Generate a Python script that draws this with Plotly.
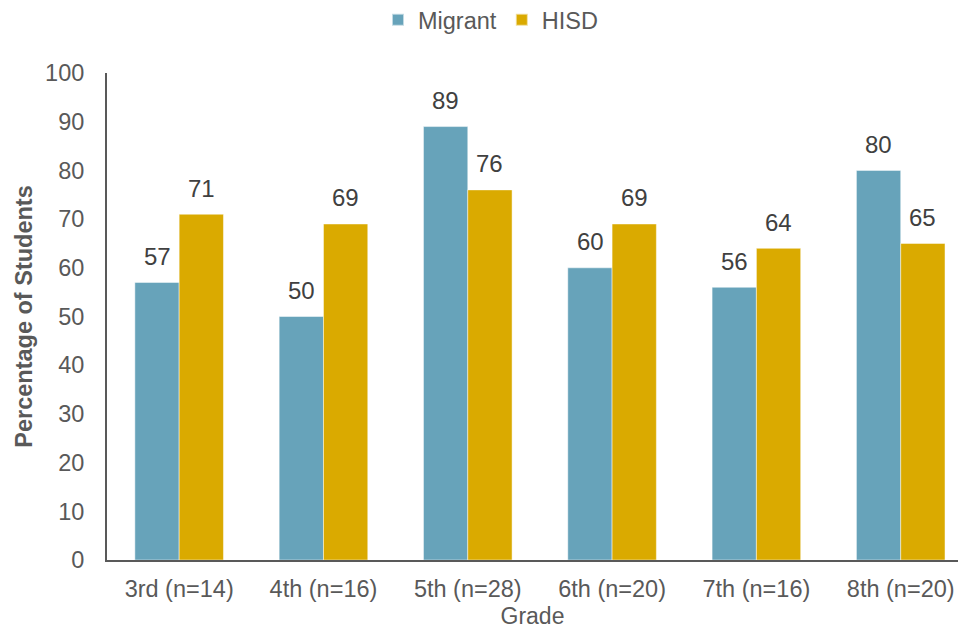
import plotly.graph_objects as go

categories = ["3rd (n=14)", "4th (n=16)", "5th (n=28)", "6th (n=20)", "7th (n=16)", "8th (n=20)"]
migrant = [57, 50, 89, 60, 56, 80]
hisd = [71, 69, 76, 69, 64, 65]
series = [("Migrant", migrant, "#67A3BA"), ("HISD", hisd, "#DAAA00")]

FONT = "Liberation Sans, Arial, sans-serif"
fig = go.Figure()
for name, vals, col in series:
    fig.add_trace(go.Bar(
        x=categories, y=vals, name=name,
        marker=dict(color=col, line=dict(color="rgba(255,255,255,0.6)", width=0.8)),
    ))

annotations = []
for (name, vals, col), shift in zip(series, [-22, 22]):
    for c, v in zip(categories, vals):
        annotations.append(dict(
            x=c, y=v, xref="x", yref="y", text=str(v), showarrow=False,
            xshift=shift, yshift=26, font=dict(size=24, color="#404040", family=FONT),
        ))

fig.update_layout(
    width=958, height=635,
    margin=dict(l=107, r=0, t=73, b=75, autoexpand=False),
    paper_bgcolor="white", plot_bgcolor="white",
    barmode="group", bargap=0.386, bargroupgap=0,
    font=dict(family=FONT, color="#595959", size=23.5),
    legend=dict(orientation="h", x=378 / 958, xref="container", xanchor="left",
                y=1 - 20 / 635, yref="container", yanchor="middle",
                font=dict(size=23.5, color="#595959"), itemwidth=30,
                itemsizing="constant", traceorder="normal"),
    annotations=annotations,
    xaxis=dict(range=[-0.5, 5.397], showline=True, linecolor="#595959", linewidth=2,
               showgrid=False, ticks="", automargin=False, ticklabelstandoff=7,
               tickfont=dict(size=23.5, color="#595959"),
               title=dict(text="Grade", font=dict(size=23, color="#595959"), standoff=7)),
    yaxis=dict(range=[0, 100], dtick=10, showline=True, linecolor="#595959", linewidth=2,
               showgrid=False, zeroline=False, ticks="", ticklabelstandoff=16,
               automargin=False, tickfont=dict(size=23.5, color="#595959"),
               title=dict(text="<b>Percentage of Students</b>",
                          font=dict(size=23.5, color="#595959"), standoff=6)),
)
fig.write_html("out.html", config={"displayModeBar": False},
               post_script="document.body.style.margin='0';document.body.style.overflow='hidden';")
